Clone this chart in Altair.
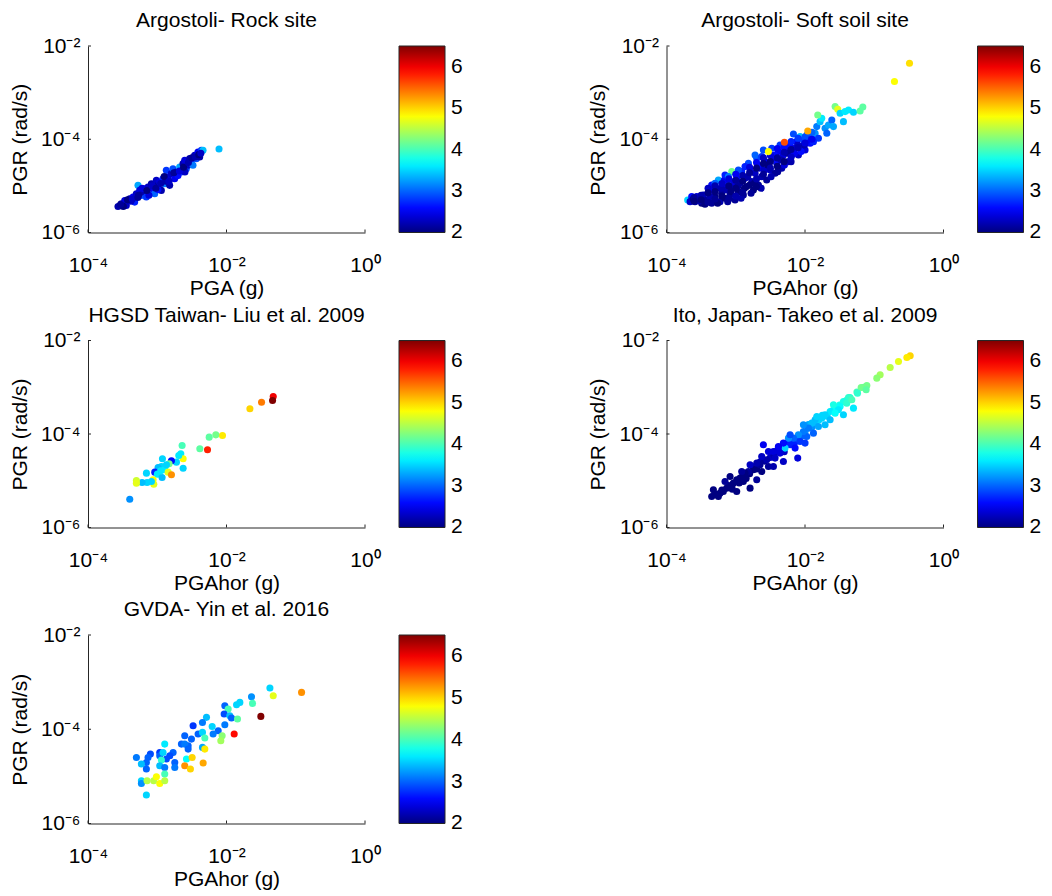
import altair as alt
import pandas as pd

# ---------------- data: (log10 PGA [g], log10 PGR [rad/s], magnitude) ----------------
rock_rows = [
    (-3.567, -5.441, 2.2), (-3.519, -5.383, 2.1), (-3.470, -5.312, 2.4), (-3.447, -5.419, 2.3),
    (-3.398, -5.276, 2.2), (-3.350, -5.240, 2.5), (-3.326, -5.348, 2.7), (-3.302, -5.168, 2.3),
    (-3.278, -4.989, 3.3), (-3.254, -5.097, 2.4), (-3.230, -5.204, 2.9), (-3.206, -5.133, 2.2),
    (-3.182, -5.061, 2.6), (-3.158, -5.240, 2.8), (-3.134, -5.025, 2.3), (-3.110, -5.133, 2.9),
    (-3.085, -4.953, 2.2), (-3.061, -5.061, 2.5), (-3.037, -5.168, 3.0), (-3.013, -4.882, 2.3),
    (-2.989, -4.989, 2.1), (-2.965, -4.918, 2.4), (-2.941, -5.097, 2.2), (-2.917, -4.846, 2.7),
    (-2.893, -4.953, 3.1), (-2.869, -4.667, 2.8), (-2.845, -4.810, 2.4), (-2.821, -4.989, 2.2),
    (-2.797, -4.738, 2.3), (-2.773, -4.631, 2.9), (-2.749, -4.846, 2.5), (-2.724, -4.703, 2.2),
    (-2.676, -4.595, 3.3), (-2.652, -4.703, 2.8), (-2.628, -4.523, 2.2), (-2.604, -4.452, 2.4),
    (-2.580, -4.631, 2.9), (-2.556, -4.559, 2.3), (-2.532, -4.416, 2.2), (-2.508, -4.487, 2.6),
    (-2.484, -4.559, 3.1), (-2.460, -4.344, 2.3), (-2.436, -4.416, 2.9), (-2.412, -4.272, 2.5),
    (-2.387, -4.380, 2.2), (-2.363, -4.237, 2.8), (-2.339, -4.237, 3.4), (-2.108, -4.208, 3.4),
    (-3.490, -5.440, 2.0), (-3.380, -5.330, 2.3), (-3.270, -5.200, 2.1), (-3.120, -5.200, 2.4),
    (-2.990, -5.080, 2.6), (-2.880, -4.900, 2.2), (-2.700, -4.780, 2.6), (-2.600, -4.700, 2.3),
    (-3.53, -5.40, 2.1), (-3.43, -5.30, 2.0), (-3.36, -5.28, 2.3), (-3.28, -5.25, 2.1),
    (-3.22, -5.05, 2.4), (-3.15, -5.10, 2.0), (-3.07, -5.00, 2.3), (-3.02, -5.05, 2.1),
    (-2.95, -4.95, 2.2), (-2.90, -4.80, 2.0), (-2.83, -4.90, 2.3), (-2.76, -4.72, 2.1),
    (-2.68, -4.68, 2.4), (-2.62, -4.60, 2.0), (-2.55, -4.50, 2.2), (-2.50, -4.40, 2.1),
    (-2.45, -4.38, 2.2), (-2.40, -4.33, 2.0), (-2.37, -4.30, 2.3),
]

soft_rows = [
    (-3.694, -5.303, 3.5), (-3.636, -5.231, 2.6), (-3.588, -5.338, 2.2), (-3.540, -5.267, 2.1),
    (-3.492, -5.374, 2.0), (-3.468, -5.195, 2.3), (-3.420, -5.303, 2.1), (-3.395, -5.124, 2.4),
    (-3.347, -5.374, 2.1), (-3.347, -4.981, 2.6), (-3.299, -5.231, 2.0), (-3.275, -5.052, 2.3),
    (-3.251, -4.873, 3.3), (-3.227, -5.338, 2.2), (-3.203, -5.160, 2.1), (-3.179, -4.981, 2.4),
    (-3.155, -5.267, 2.0), (-3.131, -5.088, 2.2), (-3.106, -4.909, 2.8), (-3.082, -5.195, 2.1),
    (-3.058, -4.695, 4.2), (-3.034, -5.016, 2.3), (-3.010, -5.303, 2.1), (-2.986, -4.838, 2.6),
    (-2.962, -5.124, 2.0), (-2.938, -4.945, 2.2), (-2.914, -4.695, 2.7), (-2.890, -5.195, 2.1),
    (-2.866, -4.838, 2.3), (-2.842, -5.016, 2.0), (-2.817, -4.516, 2.9), (-2.793, -4.659, 2.5),
    (-2.769, -4.909, 2.2), (-2.745, -5.088, 2.0), (-2.721, -4.730, 2.3), (-2.697, -4.408, 2.9),
    (-2.673, -4.981, 2.1), (-2.649, -4.623, 2.4), (-2.625, -4.802, 2.2), (-2.601, -4.230, 2.9),
    (-2.577, -4.480, 2.5), (-2.553, -4.873, 2.1), (-2.504, -4.659, 2.3),
    (-2.480, -4.194, 2.8), (-2.456, -4.408, 2.4), (-2.432, -4.730, 2.1), (-2.408, -4.516, 2.6),
    (-2.384, -4.265, 2.5), (-2.360, -4.122, 2.8), (-2.336, -4.623, 2.2), (-2.312, -4.337, 2.4),
    (-2.278, -4.194, 2.3), (-2.239, -4.480, 2.3), (-2.215, -4.122, 2.6),
    (-2.191, -4.337, 2.5), (-2.167, -3.886, 2.9), (-2.143, -4.194, 2.4), (-2.119, -4.051, 2.6),
    (-2.095, -4.337, 2.3), (-2.071, -3.943, 3.4), (-2.047, -4.158, 2.5), (-2.023, -4.015, 2.8),
    (-1.999, -4.230, 2.4), (-1.974, -3.908, 3.0), (-1.926, -4.087, 2.6),
    (-1.902, -3.943, 2.9), (-1.854, -3.872, 3.2), (-1.830, -3.729, 3.1), (-1.806, -3.979, 2.8),
    (-1.782, -3.622, 3.4), (-1.758, -3.550, 3.6), (-1.816, -3.479, 4.2), (-1.710, -3.765, 3.2),
    (-1.685, -3.872, 3.0), (-1.661, -3.693, 3.3), (-1.613, -3.586, 3.0), (-1.589, -3.729, 3.3),
    (-1.565, -3.300, 4.2), (-1.527, -3.357, 4.7), (-1.493, -3.443, 3.5), (-1.445, -3.622, 3.4),
    (-1.421, -3.407, 3.6), (-1.372, -3.371, 3.6), (-1.300, -3.421, 3.5), (-1.204, -3.393, 4.1),
    (-1.165, -3.307, 4.1), (-0.708, -2.763, 4.8), (-0.491, -2.370, 4.95),
    (-3.660, -5.338, 2.3), (-3.612, -5.281, 2.0), (-3.564, -5.231, 2.4), (-3.516, -5.324, 2.2),
    (-3.444, -5.396, 2.0), (-3.371, -5.231, 2.2), (-3.323, -5.088, 2.5), (-3.261, -5.374, 2.0),
    (-3.212, -5.052, 2.2), (-3.164, -4.873, 2.5), (-3.116, -5.338, 2.1), (-3.068, -5.124, 2.0),
    (-3.020, -4.909, 2.4), (-2.972, -5.016, 2.1), (-2.923, -5.267, 2.2), (-2.875, -5.052, 2.0),
    (-2.827, -4.802, 2.2), (-2.779, -5.160, 2.1), (-2.731, -4.945, 2.0), (-2.683, -4.552, 2.6),
    (-2.634, -5.052, 2.2), (-2.586, -4.659, 2.3), (-2.538, -4.552, 2.0), (-2.490, -4.802, 2.2),
    (-2.442, -4.337, 2.6), (-2.394, -4.695, 2.1), (-2.345, -4.444, 2.2), (-2.297, -4.552, 2.4),
    (-2.249, -4.301, 2.1), (-2.201, -4.480, 2.2), (-2.153, -4.301, 2.5), (-2.105, -4.122, 2.3),
    (-2.056, -4.265, 2.6), (-2.008, -4.122, 2.2), (-1.950, -4.015, 2.5), (-1.878, -4.051, 2.7),
    (-2.721, -4.337, 3.0), (-2.625, -4.373, 2.8), (-2.866, -4.587, 2.7), (-2.962, -4.659, 2.9),
    (-3.155, -4.766, 2.7), (-3.299, -4.945, 3.0), (-3.106, -4.802, 3.1),
    (-3.60, -5.25, 2.1), (-3.60, -5.33, 2.0), (-3.50, -5.20, 2.2), (-3.50, -5.30, 2.0),
    (-3.40, -5.05, 2.3), (-3.40, -5.15, 2.0), (-3.40, -5.35, 2.1), (-3.30, -5.00, 2.2),
    (-3.30, -5.12, 2.0), (-3.30, -5.28, 2.1), (-3.20, -4.95, 2.3), (-3.20, -5.22, 2.0),
    (-3.10, -4.85, 2.4), (-3.10, -5.00, 2.0), (-3.10, -5.28, 2.1), (-3.00, -4.75, 2.5),
    (-3.00, -4.88, 2.1), (-3.00, -5.05, 2.0), (-3.00, -5.22, 2.2), (-2.90, -4.78, 2.2),
    (-2.90, -4.90, 2.0), (-2.90, -5.15, 2.1), (-2.80, -4.60, 2.4), (-2.80, -4.72, 2.1),
    (-2.80, -4.98, 2.0), (-2.70, -4.50, 2.5), (-2.70, -4.62, 2.0), (-2.70, -4.85, 2.2),
    (-2.70, -5.02, 2.0), (-2.60, -4.40, 2.3), (-2.60, -4.52, 2.0), (-2.60, -4.75, 2.1),
    (-2.50, -4.35, 2.4), (-2.50, -4.48, 2.0), (-2.50, -4.62, 2.2), (-2.40, -4.20, 2.5),
    (-2.40, -4.40, 2.1), (-2.40, -4.58, 2.0), (-2.30, -4.18, 2.6), (-2.30, -4.28, 2.2),
    (-2.30, -4.48, 2.0), (-2.20, -4.05, 2.7), (-2.20, -4.22, 2.1), (-2.20, -4.38, 2.3),
    (-2.10, -3.98, 2.8), (-2.10, -4.18, 2.2), (-2.00, -3.95, 2.9), (-2.00, -4.08, 2.4),
    (-1.90, -3.85, 3.0), (-1.90, -4.00, 2.5),
    (-2.528, -4.265, 4.8), (-2.297, -4.065, 5.6), (-1.960, -3.822, 5.2),
]

taiwan_rows = [
    (-1.325, -3.198, 6.0), (-1.335, -3.283, 6.5), (-1.494, -3.319, 5.4), (-1.662, -3.461, 5.0),
    (-2.058, -4.032, 4.9), (-2.154, -4.018, 4.2), (-2.250, -4.067, 4.1), (-2.274, -4.338, 5.8),
    (-2.385, -4.317, 4.1), (-2.641, -4.246, 4.0), (-2.660, -4.424, 3.6), (-2.626, -4.531, 4.8),
    (-2.689, -4.460, 3.6), (-2.626, -4.731, 3.5), (-2.723, -4.602, 3.5), (-2.795, -4.574, 2.6),
    (-2.829, -4.638, 4.2), (-2.925, -4.531, 3.5), (-2.940, -4.695, 3.5), (-2.988, -4.716, 3.4),
    (-2.891, -4.766, 3.6), (-2.843, -4.816, 4.7), (-2.795, -4.873, 5.3), (-3.036, -4.816, 2.7),
    (-2.998, -4.859, 3.6), (-2.930, -4.930, 3.4), (-3.060, -4.980, 4.8), (-3.050, -5.073, 4.7),
    (-3.156, -4.837, 3.5), (-3.147, -5.037, 3.5), (-3.219, -5.037, 3.4), (-3.301, -4.994, 4.6),
    (-3.301, -5.051, 4.7), (-3.397, -5.394, 3.2), (-3.084, -5.016, 3.5), (-2.867, -4.659, 3.5),
    (-2.949, -4.788, 3.6),
]

ito_rows = [
    (-3.30, -5.28, 2.0), (-3.20, -5.20, 2.0), (-3.10, -5.10, 2.0), (-3.05, -5.18, 2.0),
    (-2.95, -5.05, 2.0), (-2.90, -4.90, 2.1), (-2.85, -4.95, 2.0), (-2.80, -4.85, 2.0),
    (-2.75, -4.70, 2.1), (-2.70, -4.75, 2.0), (-2.65, -4.60, 2.2), (-2.58, -4.58, 2.1),
    (-2.50, -4.50, 2.3), (-2.45, -4.45, 2.2), (-2.40, -4.35, 2.4), (-2.35, -4.30, 2.5),
    (-2.30, -4.38, 2.3), (-2.25, -4.20, 2.6), (-2.20, -4.15, 2.8), (-2.15, -4.18, 2.7),
    (-2.10, -4.10, 2.9), (-2.05, -4.05, 3.0), (-2.00, -3.95, 3.2), (-1.95, -3.80, 3.3),
    (-1.90, -3.85, 3.2), (-1.85, -3.75, 3.4), (-1.80, -3.70, 3.5), (-1.75, -3.60, 3.5),
    (-1.68, -3.62, 3.5), (-1.60, -3.50, 3.6), (-1.55, -3.45, 3.7), (-1.50, -3.38, 3.8),
    (-1.40, -3.28, 3.9), (-1.35, -3.22, 3.9), (-1.25, -3.10, 4.0), (-1.15, -3.00, 4.1),
    (-0.481, -2.327, 5.0), (-0.529, -2.363, 4.9), (-0.650, -2.449, 4.7), (-0.770, -2.577, 4.5),
    (-0.915, -2.734, 4.4), (-0.963, -2.805, 4.3), (-1.107, -2.962, 4.2), (-1.189, -3.005, 4.2),
    (-1.117, -3.055, 4.1), (-1.242, -3.126, 3.9), (-1.372, -3.219, 3.9), (-1.445, -3.304, 3.8),
    (-1.300, -3.447, 3.6), (-1.493, -3.411, 3.7), (-1.589, -3.376, 3.8), (-1.637, -3.518, 3.6),
    (-1.445, -3.589, 3.5), (-1.517, -3.483, 3.6), (-1.710, -3.589, 3.5), (-1.758, -3.661, 3.5),
    (-1.854, -3.696, 3.4), (-1.710, -3.803, 3.4), (-1.806, -3.839, 3.3), (-1.902, -3.768, 3.4),
    (-1.950, -3.875, 3.1), (-1.878, -3.982, 3.0), (-1.974, -4.053, 3.0), (-2.023, -3.946, 3.1),
    (-2.095, -4.017, 3.2), (-2.071, -4.160, 2.8), (-1.999, -4.195, 2.8), (-2.167, -4.089, 3.0),
    (-2.215, -4.231, 2.7), (-2.143, -4.302, 2.6), (-2.239, -4.089, 3.2), (-2.288, -4.302, 3.5),
    (-2.312, -4.195, 2.6), (-2.360, -4.409, 2.4), (-2.384, -4.267, 2.5), (-2.456, -4.374, 2.4),
    (-2.432, -4.516, 2.3), (-2.528, -4.374, 2.4), (-2.553, -4.552, 2.2), (-2.528, -4.695, 2.1),
    (-2.456, -4.695, 2.2), (-2.312, -4.588, 2.3), (-2.105, -4.516, 2.4), (-2.625, -4.481, 2.3),
    (-2.649, -4.659, 2.1), (-2.625, -4.801, 2.0), (-2.697, -4.623, 2.2), (-2.745, -4.766, 2.0),
    (-2.793, -4.659, 2.3), (-2.817, -4.801, 2.1), (-2.866, -4.837, 2.0), (-2.914, -4.801, 2.1),
    (-2.938, -4.944, 2.0), (-2.890, -5.015, 2.0), (-2.697, -4.980, 2.1), (-2.793, -5.158, 2.0),
    (-2.986, -4.980, 2.0), (-3.034, -5.051, 2.0), (-3.082, -4.908, 2.0), (-2.986, -5.229, 2.0),
    (-3.058, -5.122, 2.0), (-3.131, -5.158, 2.0), (-3.179, -5.229, 2.0), (-3.227, -5.265, 2.0),
    (-3.251, -5.336, 2.0), (-3.323, -5.194, 2.0), (-3.347, -5.336, 2.0), (-3.155, -5.015, 2.1),
    (-2.601, -4.231, 2.5), (-2.215, -4.017, 2.9), (-2.023, -3.803, 3.2), (-1.830, -3.625, 3.5),
    (-1.637, -3.696, 3.4), (-1.565, -3.554, 3.7), (-1.397, -3.340, 3.9), (-1.324, -3.269, 4.0),
]

gvda_rows = [
    (-0.916, -3.218, 5.3), (-1.373, -3.126, 3.5), (-1.325, -3.288, 4.7), (-1.504, -3.727, 6.5),
    (-1.639, -3.310, 3.2), (-1.624, -3.451, 4.0), (-1.807, -3.430, 3.5), (-1.855, -3.480, 3.5),
    (-2.024, -3.501, 3.0), (-1.976, -3.572, 4.0), (-2.034, -3.678, 2.9), (-1.952, -3.713, 3.4),
    (-1.928, -3.763, 3.0), (-1.841, -3.784, 4.1), (-1.889, -4.102, 5.9), (-2.024, -3.904, 3.1),
    (-2.120, -4.032, 3.0), (-2.193, -4.102, 3.1), (-2.207, -3.940, 3.5), (-2.063, -4.138, 4.3),
    (-2.082, -4.244, 4.4), (-2.289, -3.748, 3.4), (-2.347, -3.855, 3.1), (-2.482, -3.925, 2.8),
    (-2.410, -4.102, 3.0), (-2.347, -4.067, 3.5), (-2.313, -4.187, 4.0), (-2.603, -4.138, 3.0),
    (-2.506, -4.209, 3.0), (-2.651, -4.315, 3.0), (-2.554, -4.350, 3.0), (-2.603, -4.315, 3.1),
    (-2.892, -4.315, 3.6), (-2.347, -4.385, 3.3), (-2.313, -4.421, 4.9), (-2.554, -4.421, 3.0),
    (-2.771, -4.492, 3.0), (-2.819, -4.562, 2.9), (-2.868, -4.633, 2.9), (-2.964, -4.492, 2.8),
    (-2.964, -4.562, 3.0), (-3.099, -4.527, 2.9), (-3.133, -4.598, 3.0), (-3.301, -4.598, 3.1),
    (-3.157, -4.704, 3.0), (-3.229, -4.739, 3.4), (-3.157, -4.845, 3.0), (-2.940, -4.654, 3.9),
    (-2.916, -4.492, 3.5), (-2.964, -4.775, 3.4), (-2.892, -4.810, 3.1), (-2.747, -4.704, 3.0),
    (-2.747, -4.810, 3.1), (-2.578, -4.633, 3.7), (-2.496, -4.598, 5.0), (-2.603, -4.775, 5.3),
    (-2.521, -4.845, 5.0), (-2.337, -4.718, 5.2), (-2.892, -4.952, 4.0), (-3.229, -5.093, 3.5),
    (-3.229, -5.150, 3.2), (-3.147, -5.093, 4.5), (-3.051, -5.093, 4.5), (-3.012, -5.008, 4.8),
    (-2.964, -5.150, 4.8), (-2.892, -5.093, 4.5), (-3.157, -5.397, 3.5),
]

panel_titles = [
    "Argostoli- Rock site",
    "Argostoli- Soft soil site",
    "HGSD Taiwan- Liu et al. 2009",
    "Ito, Japan- Takeo et al. 2009",
    "GVDA- Yin et al. 2016",
]
x_titles = ["PGA (g)", "PGAhor (g)", "PGAhor (g)", "PGAhor (g)", "PGAhor (g)"]
y_title = "PGR (rad/s)"

x_ticks = [1e-4, 1e-2, 1.0]
y_ticks = [1e-6, 1e-4, 1e-2]
colorbar_ticks = [2.001, 3, 4, 5, 6]
jet_domain = [2.0, 2.5625, 3.6875, 4.8125, 5.9375, 6.5]
jet_colors = ["#000080", "#0000ff", "#00ffff", "#ffff00", "#ff0000", "#800000"]

# ---------------- styling ----------------
FONT = "Liberation Sans"
FS = 21
AX = "#262626"
W = 277
HEIGHTS = [186.5, 186.5, 187, 187, 188.5]

x_label = "datum.value > 0.5 ? '10\u2070' : datum.value > 0.001 ? '10\u207b\u00b2' : '10\u207b\u2074'"
y_label = "datum.value > 0.001 ? '10\u207b\u00b2' : datum.value > 0.00001 ? '10\u207b\u2074' : '10\u207b\u2076'"


def frame(rows):
    return pd.DataFrame({
        "pga": [10 ** r[0] for r in rows],
        "pgr": [10 ** r[1] for r in rows],
        "mag": [r[2] for r in rows],
    })


def panel(rows, title, xtitle, h):
    xscale = alt.Scale(type="log", domain=[1e-4, 1], nice=False)
    yscale = alt.Scale(type="log", domain=[1e-6, 1e-2], nice=False)
    cscale = alt.Scale(domain=jet_domain, range=jet_colors, interpolate="rgb")
    xaxis = alt.Axis(title=xtitle, values=x_ticks, labelExpr=x_label,
                     titleY=45, titleBaseline="top")
    yaxis = alt.Axis(title=y_title, values=y_ticks, labelExpr=y_label,
                     titleX=-62, titleBaseline="alphabetic")
    pts = alt.Chart(frame(rows)).mark_circle(size=50, opacity=1).encode(
        x=alt.X("pga:Q", scale=xscale, axis=xaxis),
        y=alt.Y("pgr:Q", scale=yscale, axis=yaxis),
        color=alt.Color("mag:Q", scale=cscale,
                        legend=alt.Legend(orient="none", legendX=311, legendY=0,
                                          direction="vertical", gradientLength=h,
                                          gradientThickness=46, values=colorbar_ticks,
                                          labelExpr="'' + round(datum.value)",
                                          title=None, labelFont=FONT, labelFontSize=FS,
                                          labelColor="black", labelOffset=6,
                                          labelBaseline="middle",
                                          gradientStrokeColor=AX, gradientStrokeWidth=1)),
    )
    xt = alt.Chart(pd.DataFrame({"pga": x_ticks})).mark_rule(color=AX).encode(
        x=alt.X("pga:Q", scale=xscale, axis=xaxis),
        y=alt.value(h), y2=alt.value(h - 3),
    )
    yt = alt.Chart(pd.DataFrame({"pgr": y_ticks})).mark_rule(color=AX).encode(
        y=alt.Y("pgr:Q", scale=yscale, axis=yaxis),
        x=alt.value(0), x2=alt.value(3),
    )
    return alt.layer(pts, xt, yt).properties(
        width=W, height=h,
        title=alt.Title(title, font=FONT, fontSize=FS, fontWeight="normal", color="black",
                        anchor="middle", baseline="alphabetic", offset=-13),
    )


all_rows = [rock_rows, soft_rows, taiwan_rows, ito_rows, gvda_rows]
panels = [panel(r, t, xt, h) for r, t, xt, h in zip(all_rows, panel_titles, x_titles, HEIGHTS)]

chart = alt.concat(
    *panels, columns=2, spacing={"row": 107.5, "column": 301.5}, bounds="flush"
).resolve_scale(
    x="independent", y="independent", color="independent"
).resolve_legend(
    color="independent"
).properties(
    padding={"left": 0, "top": 2, "right": 0, "bottom": 0}
).configure_view(
    stroke=None
).configure_axis(
    labelFont=FONT, labelFontSize=FS, labelColor="black",
    titleFont=FONT, titleFontSize=FS, titleFontWeight="normal", titleColor="black",
    domainColor=AX, domainWidth=1, ticks=False, tickSize=0, grid=False,
    labelFlush=False, labelOverlap=False,
).configure_axisX(
    labelPadding=22
).configure_axisY(
    labelPadding=8
)

chart.save("out.html", embed_options={"renderer": "svg", "actions": False})
